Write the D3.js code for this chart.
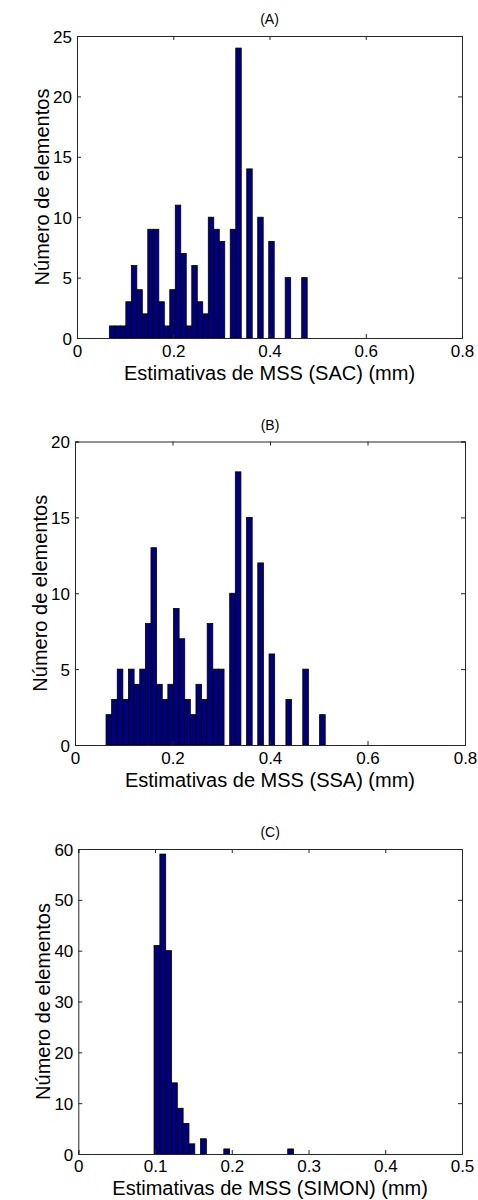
<!DOCTYPE html>
<html>
<head>
<meta charset="utf-8">
<script src="https://cdn.jsdelivr.net/npm/d3@7"></script>
<style>
  html, body { margin: 0; padding: 0; background: #fff; }
  svg { display: block; }
  text { font-family: "Liberation Sans", Arial, sans-serif; fill: #000; }
</style>
</head>
<body>
<svg id="chart" width="478" height="1200"></svg>
<script>
// ---- data ----
const panelTitles = ["(A)", "(B)", "(C)"];
const xAxisLabels = ["Estimativas de MSS (SAC) (mm)", "Estimativas de MSS (SSA) (mm)", "Estimativas de MSS (SIMON) (mm)"];
const yAxisLabel = "Número de elementos";

const binCentersA = [0.0729, 0.0843, 0.0957, 0.1072, 0.1186, 0.1300, 0.1414, 0.1528, 0.1643, 0.1757,
  0.1871, 0.1985, 0.2099, 0.2213, 0.2328, 0.2442, 0.2556, 0.2670, 0.2785, 0.2899,
  0.3013, 0.3127, 0.3241, 0.3356, 0.3470, 0.3584, 0.3698, 0.3812, 0.3927, 0.4041,
  0.4155, 0.4269, 0.4383, 0.4498, 0.4612, 0.4726];
const countsA = [1, 1, 1, 3, 6, 4, 2, 9, 9, 3, 1, 4, 11, 7, 1, 6, 3, 2, 10, 9,
  8, 0, 9, 24, 0, 14, 0, 10, 0, 8, 0, 0, 5, 0, 0, 5];

const binCentersB = [0.0694, 0.0809, 0.0924, 0.1040, 0.1155, 0.1271, 0.1386, 0.1501, 0.1616, 0.1732,
  0.1847, 0.1962, 0.2078, 0.2193, 0.2308, 0.2424, 0.2539, 0.2654, 0.2769, 0.2885,
  0.3000, 0.3115, 0.3231, 0.3346, 0.3461, 0.3577, 0.3692, 0.3807, 0.3922, 0.4038,
  0.4153, 0.4268, 0.4384, 0.4499, 0.4614, 0.4730, 0.4845, 0.4960, 0.5075];
const countsB = [2, 3, 5, 3, 5, 4, 5, 8, 13, 4, 3, 4, 9, 7, 3, 2, 4, 3, 8, 5,
  5, 0, 10, 18, 0, 15, 0, 12, 0, 6, 0, 0, 3, 0, 0, 5, 0, 0, 2];

const binCentersC = [0.1025, 0.1101, 0.1177, 0.1252, 0.1328, 0.1404, 0.1480, 0.1555, 0.1631, 0.1707,
  0.1783, 0.1858, 0.1934, 0.2010, 0.2086, 0.2161, 0.2237, 0.2313, 0.2389, 0.2464,
  0.2540, 0.2616, 0.2692, 0.2767];
const countsC = [41, 59, 40, 14, 9, 6, 2, 0, 3, 0, 0, 0, 1, 0, 0, 0, 0, 0, 0, 0, 0, 0, 0, 1];

const xTicksA = [0, 0.2, 0.4, 0.6, 0.8];
const yTicksA = [0, 5, 10, 15, 20, 25];
const xTicksB = [0, 0.2, 0.4, 0.6, 0.8];
const yTicksB = [0, 5, 10, 15, 20];
const xTicksC = [0, 0.1, 0.2, 0.3, 0.4, 0.5];
const yTicksC = [0, 10, 20, 30, 40, 50, 60];

// ---- layout (positions only) ----
const panels = [
  { title: panelTitles[0], xlabel: xAxisLabels[0], centers: binCentersA, counts: countsA,
    xTicks: xTicksA, yTicks: yTicksA, box: { l: 77, r: 462, t: 36, b: 338 }, pad: 7, xlOff: 42 },
  { title: panelTitles[1], xlabel: xAxisLabels[1], centers: binCentersB, counts: countsB,
    xTicks: xTicksB, yTicks: yTicksB, box: { l: 75, r: 465, t: 441.5, b: 745 }, pad: 7, xlOff: 42 },
  { title: panelTitles[2], xlabel: xAxisLabels[2], centers: binCentersC, counts: countsC,
    xTicks: xTicksC, yTicks: yTicksC, box: { l: 78.3, r: 462, t: 849, b: 1154 }, pad: 6, xlOff: 41 }
];

const svg = d3.select("#chart");
const barFill = "#00007f";
const axisColor = "#262626";
const tickLen = 4;
const tickFont = 17;
const labelFont = 20;

panels.forEach(p => {
  const b = p.box;
  const x = d3.scaleLinear().domain(d3.extent(p.xTicks)).range([b.l, b.r]);
  const y = d3.scaleLinear().domain(d3.extent(p.yTicks)).range([b.b, b.t]);
  const g = svg.append("g");

  // bars
  const bw = x(p.centers[1]) - x(p.centers[0]);
  g.selectAll("rect.bar")
    .data(p.centers.map((c, i) => ({ c, n: p.counts[i] })).filter(d => d.n > 0))
    .join("rect")
    .attr("class", "bar")
    .attr("x", d => x(d.c) - bw / 2)
    .attr("width", bw)
    .attr("y", d => y(d.n))
    .attr("height", d => y(0) - y(d.n))
    .attr("fill", barFill)
    .attr("stroke", "#000")
    .attr("stroke-width", 0.8);

  // axes with inward ticks on all four sides
  const xAxis = d3.axisBottom(x).tickValues(p.xTicks).tickSize(-tickLen).tickPadding(p.pad)
    .tickFormat(d => d3.format("")(d));
  const yAxis = d3.axisLeft(y).tickValues(p.yTicks).tickSize(-tickLen).tickPadding(5)
    .tickFormat(d3.format("d"));
  const xTop = d3.axisTop(x).tickValues(p.xTicks).tickSize(-tickLen).tickFormat("");
  const yRight = d3.axisRight(y).tickValues(p.yTicks).tickSize(-tickLen).tickFormat("");

  const gx = g.append("g").attr("transform", `translate(0,${b.b})`).call(xAxis);
  const gy = g.append("g").attr("transform", `translate(${b.l},0)`).call(yAxis);
  const gxt = g.append("g").attr("transform", `translate(0,${b.t})`).call(xTop);
  const gyr = g.append("g").attr("transform", `translate(${b.r},0)`).call(yRight);

  [gx, gy, gxt, gyr].forEach(a => {
    a.select(".domain").attr("stroke", axisColor).attr("stroke-width", 1);
    a.selectAll(".tick line").attr("stroke", axisColor).attr("stroke-width", 1);
    a.selectAll(".tick text").attr("font-size", tickFont)
      .attr("font-family", "'Liberation Sans', Arial, sans-serif").attr("fill", "#000");
  });
  gx.selectAll(".tick text").attr("dy", "0.71em");
  gy.selectAll(".tick text").attr("dy", "0.36em");

  // title
  g.append("text")
    .attr("x", (b.l + b.r) / 2).attr("y", b.t - 12)
    .attr("text-anchor", "middle").attr("font-size", 14)
    .text(p.title);

  // x label
  g.append("text")
    .attr("x", (b.l + b.r) / 2).attr("y", b.b + p.xlOff)
    .attr("text-anchor", "middle").attr("font-size", labelFont)
    .text(p.xlabel);

  // y label
  g.append("text")
    .attr("transform", `translate(${b.l - 28},${(b.t + b.b) / 2}) rotate(-90)`)
    .attr("text-anchor", "middle").attr("font-size", labelFont)
    .text(yAxisLabel);
});
</script>
</body>
</html>
